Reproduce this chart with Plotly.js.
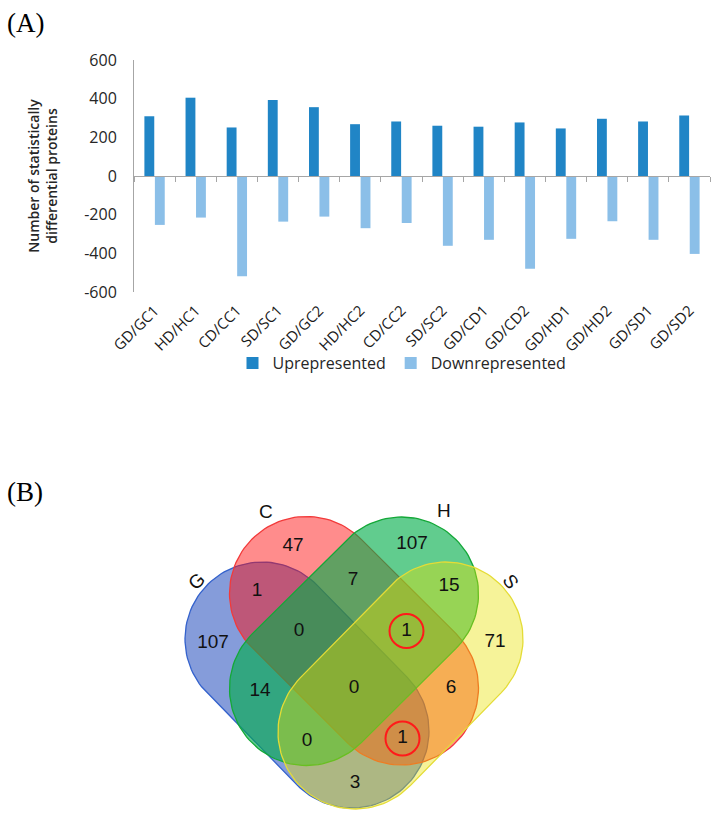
<!DOCTYPE html>
<html><head><meta charset="utf-8">
<script src="https://cdn.plot.ly/plotly-3.0.1.min.js"></script>
<style>html,body{margin:0;padding:0;background:#fff}#chart{width:724px;height:817px}</style>
</head><body><div id="chart"></div>
<script>
// ---------- Panel A data ----------
const categories = ["GD/GC1","HD/HC1","CD/CC1","SD/SC1","GD/GC2","HD/HC2","CD/CC2","SD/SC2","GD/CD1","GD/CD2","GD/HD1","GD/HD2","GD/SD1","GD/SD2"];
const upValues   = [309, 405, 251, 393, 356, 268, 282, 260, 255, 277, 246, 296, 282, 313];
const downValues = [-253, -215, -518, -236, -210, -270, -243, -361, -330, -480, -325, -234, -330, -403];
const yTickValues = [-600, -400, -200, 0, 200, 400, 600];
const seriesNames = ["Uprepresented", "Downrepresented"];
const yTitle = "Number of statistically<br>differential proteins";

// ---------- Panel B data ----------
const setNames    = ["G", "C", "H", "S"];
const regionNames = ["G","C","H","S","G∩C","C∩H","H∩S","G∩C∩H","C∩H∩S","G∩H","G∩C∩H∩S","C∩S","G∩H∩S","G∩C∩S","G∩S"];
const regionCounts = [107, 47, 107, 71, 1, 7, 15, 0, 1, 14, 0, 6, 0, 1, 3];
const highlightedRegions = ["C∩H∩S", "G∩C∩S"];

// ---------- Panel B geometry (pixel-like units on hidden axes) ----------
const regionLabelX = [213, 293, 412, 495, 257, 353, 449, 299, 406.5, 260, 354, 451, 307, 402.5, 355];
const regionLabelY = [643, 546.5, 544.5, 642, 591, 580, 586.5, 631, 631, 691, 688.5, 688, 741, 738.5, 783];
const capR = 77;
const capsuleGeom = {
  G: {p1: [262, 639],     p2: [352, 731]},
  C: {p1: [306.5, 593.5], p2: [401.5, 688]},
  H: {p1: [401.5, 594],   p2: [306.5, 688.5]},
  S: {p1: [446, 639],     p2: [355, 732]}
};
const setStyle = {
  G: {fill: 'rgba(12,58,182,0.50)', line: '#3462cc'},
  C: {fill: 'rgba(255,10,10,0.47)', line: '#f23a3a'},
  H: {fill: 'rgba(0,172,72,0.62)',  line: '#14a838'},
  S: {fill: 'rgba(232,226,0,0.40)', line: '#e4dc36'}
};
const setLabelPos = {G: [196, 581, -45], C: [266, 511, 0], H: [444, 510, 0], S: [511, 581, 55]};

const W = 724, H = 817;
const px = v => v / W;
const py = v => 1 - v / H;

function capsule(p1, p2, r, n) {
  const ang = Math.atan2(p2[1] - p1[1], p2[0] - p1[0]);
  const xs = [], ys = [];
  for (let i = 0; i <= n; i++) { const a = ang - Math.PI/2 + Math.PI*i/n; xs.push(p2[0] + r*Math.cos(a)); ys.push(p2[1] + r*Math.sin(a)); }
  for (let i = 0; i <= n; i++) { const a = ang + Math.PI/2 + Math.PI*i/n; xs.push(p1[0] + r*Math.cos(a)); ys.push(p1[1] + r*Math.sin(a)); }
  xs.push(xs[0]); ys.push(ys[0]);
  return {xs, ys};
}

const traces = [];
traces.push({type: 'bar', name: seriesNames[0], x: categories, y: upValues, xaxis: 'x', yaxis: 'y',
  marker: {color: '#2085c6'}, hoverinfo: 'skip'});
traces.push({type: 'bar', name: seriesNames[1], x: categories, y: downValues, xaxis: 'x', yaxis: 'y',
  marker: {color: '#8bbfe8'}, hoverinfo: 'skip'});
// helper (invisible) trace so the zero-crossing axis with boundary ticks is drawn
traces.push({type: 'scatter', mode: 'markers', x: categories, y: upValues, xaxis: 'x2', yaxis: 'y',
  marker: {opacity: 0}, showlegend: false, hoverinfo: 'skip'});

setNames.forEach(s => {
  const g = capsuleGeom[s];
  const c = capsule(g.p1, g.p2, capR, 60);
  traces.push({type: 'scatter', mode: 'lines', x: c.xs, y: c.ys, xaxis: 'x3', yaxis: 'y3',
    fill: 'toself', fillcolor: setStyle[s].fill, line: {color: setStyle[s].line, width: 1.3},
    showlegend: false, hoverinfo: 'skip', name: s});
});
traces.push({type: 'scatter', mode: 'text', x: regionLabelX, y: regionLabelY, text: regionCounts.map(String),
  xaxis: 'x3', yaxis: 'y3', textposition: 'middle center',
  textfont: {family: 'Liberation Sans, Arial, sans-serif', size: 19, color: '#111'},
  showlegend: false, hoverinfo: 'skip'});

const shapes = highlightedRegions.map(r => {
  const i = regionNames.indexOf(r);
  const cx = regionLabelX[i], cy = regionLabelY[i], rr = 17;
  return {type: 'circle', xref: 'x3', yref: 'y3', x0: cx - rr, x1: cx + rr, y0: cy - rr, y1: cy + rr,
    line: {color: '#ff1a1a', width: 2}, fillcolor: 'rgba(0,0,0,0)', layer: 'above'};
});

const annotations = [
  {text: '(A)', xref: 'paper', yref: 'paper', x: px(5), y: py(23), xanchor: 'left', yanchor: 'middle', showarrow: false,
   font: {family: 'Liberation Serif, Times New Roman, serif', size: 27, color: '#000'}},
  {text: '(B)', xref: 'paper', yref: 'paper', x: px(5), y: py(492), xanchor: 'left', yanchor: 'middle', showarrow: false,
   font: {family: 'Liberation Serif, Times New Roman, serif', size: 27, color: '#000'}}
];
setNames.forEach(s => {
  const p = setLabelPos[s];
  annotations.push({text: s, xref: 'x3', yref: 'y3', x: p[0], y: p[1], showarrow: false, textangle: p[2],
    xanchor: 'center', yanchor: 'middle', font: {family: 'Liberation Sans, Arial, sans-serif', size: 19, color: '#111'}});
});

const yDom = [py(292), py(60)];
const xDom = [px(134), px(710)];
const layout = {
  width: W, height: H, margin: {l: 0, r: 0, t: 0, b: 0},
  paper_bgcolor: '#ffffff', plot_bgcolor: 'rgba(0,0,0,0)',
  font: {family: 'Open Sans, sans-serif', color: '#262626'},
  barmode: 'group', bargap: 0.49, bargroupgap: 0.06,
  showlegend: true,
  legend: {orientation: 'h', x: px(402), xanchor: 'center', y: py(363), yanchor: 'middle', bgcolor: 'rgba(0,0,0,0)',
    font: {size: 16, color: '#262626'}, traceorder: 'normal', itemclick: false},
  xaxis: {domain: xDom, anchor: 'y', type: 'category', categoryarray: categories, range: [-0.5, categories.length - 0.5],
    showline: false, ticks: '', tickangle: -45, tickfont: {size: 15, color: '#1a1a1a'}, ticklabelstandoff: 6,
    showgrid: false, zeroline: false, automargin: false},
  xaxis2: {domain: xDom, overlaying: 'x', anchor: 'free', position: (yDom[0] + yDom[1]) / 2, side: 'bottom',
    type: 'category', categoryarray: categories, range: [-0.5, categories.length - 0.5],
    showline: true, linecolor: '#a6a6a6', linewidth: 1, ticks: 'outside', ticklen: 5, tickcolor: '#a6a6a6',
    tickson: 'boundaries', showticklabels: false, showgrid: false, zeroline: false, automargin: false},
  yaxis: {domain: yDom, range: [-600, 600], tickvals: yTickValues, ticktext: yTickValues.map(String),
    showline: true, linecolor: '#a6a6a6', ticks: '', showgrid: false, zeroline: false,
    tickfont: {size: 16, color: '#262626'}, ticklabelstandoff: 13, automargin: false,
    title: {text: yTitle, font: {size: 14, weight: 600, color: '#262626'}, standoff: 23}},
  xaxis3: {domain: [0, 1], range: [0, W], anchor: 'y3', visible: false, fixedrange: true},
  yaxis3: {domain: [0, py(440)], range: [H, 440], anchor: 'x3', visible: false, fixedrange: true},
  shapes: shapes,
  annotations: annotations
};

Plotly.newPlot('chart', traces, layout, {staticPlot: true, displayModeBar: false});
</script>
</body></html>
